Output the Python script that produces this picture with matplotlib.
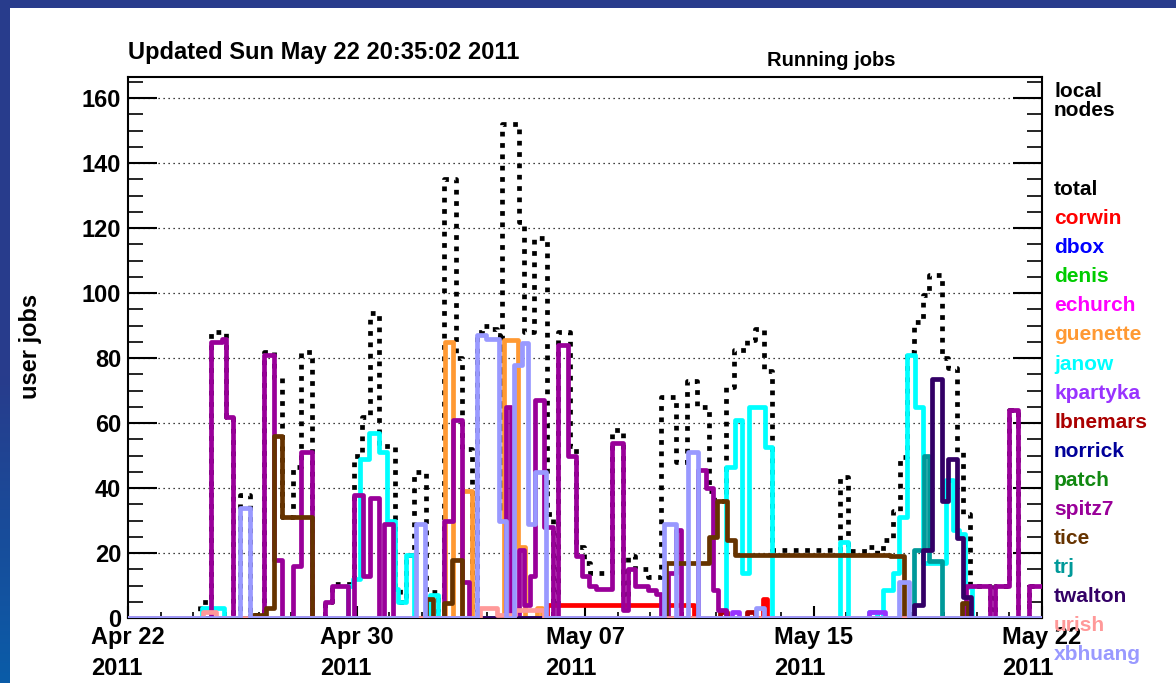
import datetime
import numpy as np
import matplotlib
matplotlib.use("Agg")
import matplotlib.pyplot as plt
import matplotlib.dates as mdates
from matplotlib.colors import to_rgb
from matplotlib.patches import Rectangle
from matplotlib.ticker import FixedLocator, MultipleLocator

plt.rcParams['font.family'] = ['Liberation Sans', 'DejaVu Sans']
plt.rcParams['font.weight'] = 'bold'

START = datetime.datetime(2011, 4, 22, 20, 35, 2)
SPAN_HOURS = 720

# hours since START where the running count changes, and the new count
total_h = [57, 65, 77, 83, 88, 96, 107, 115, 121, 130, 136, 145, 155, 161, 178, 184, 191, 198, 210, 214,
           219, 225, 235, 244, 249, 258, 263, 271, 275, 279, 287, 291, 293, 295, 308, 312, 320, 330, 335, 339,
           348, 353, 359, 364, 381, 390, 394, 399, 410, 420, 432, 440, 448, 458, 462, 471, 477, 488, 494, 501,
           507, 561, 567, 584, 590, 595, 603, 608, 614, 619, 626, 631, 641, 646, 653, 658, 663, 679, 683, 694,
           701, 710]
total_n = [5, 88, 62, 0, 38, 1, 82, 74, 31, 46.5, 82, 0, 5, 10.5, 50, 62, 94, 53, 9, 5,
           19.5, 45, 8, 2, 135, 80, 52, 2, 88, 90, 89, 87, 33, 152, 122, 88, 117, 32, 4, 88,
           53, 22, 17, 14, 58, 6.5, 19, 15, 12.5, 68, 48, 73, 65, 39, 36, 71, 82.5, 85.5, 89, 76,
           21, 43.5, 20.5, 22, 20, 24, 33, 49.5, 82, 91, 99.5, 105.5, 80, 77, 51, 32, 10, 0, 10, 64,
           0, 10]

corwin_h = [330, 446, 500, 503]
corwin_n = [4, 0, 6, 0]
guenette_h = [250, 256, 263, 271, 296, 307, 313, 322, 326]
guenette_n = [85, 0, 39, 0, 85.5, 22, 0, 3, 0]
janow_h = [58, 76, 173, 177, 183, 190, 198, 204, 210, 213, 219, 225, 238, 244, 471, 478, 484, 489, 502, 507,
           561, 567, 584, 590, 595, 603, 607, 614, 620, 626, 644, 650, 655, 659, 665]
janow_n = [3, 0, 10, 12, 49, 57, 51, 30, 9, 5, 19.5, 0, 7, 0, 46.5, 61, 14, 65, 52.5, 0,
           23.5, 0, 2, 0, 8.5, 14, 31, 81, 65, 17, 42.5, 27, 26, 9.5, 0]
kpartyka_h = [476, 481, 584, 596]
kpartyka_n = [2, 0, 2, 0]
lbnemars_h = [466, 472, 488, 494]
lbnemars_n = [2, 0, 2, 0]
spitz7_h = [65, 74, 77, 83, 107, 115, 121, 130, 136, 145, 155, 161, 173, 178, 185, 191, 198, 202, 209, 249,
            256, 263, 269, 298, 302, 308, 312, 317, 321, 328, 335, 339, 347, 353, 358, 363, 369, 381, 390, 394,
            399, 410, 416, 420, 425, 432, 436, 449, 455, 461, 465, 471, 660, 679, 683, 694, 701, 710]
spitz7_n = [85, 86, 62, 0, 81, 18, 0, 16, 51, 0, 5, 10, 0, 38, 13, 37, 0, 29, 0, 30,
            61, 11, 0, 65, 0, 21, 4, 13, 67, 28, 0, 84, 50, 19, 13, 10, 9, 54, 2.5, 15,
            10, 8.5, 7.5, 0, 14, 27, 0, 45.5, 40, 8.5, 2.5, 0, 10, 0, 10, 64, 0, 10]
tice_h = [96, 109, 115, 121, 145, 235, 240, 249, 255, 263, 424, 458, 464, 472, 478, 600, 611, 657, 662]
tice_n = [1, 3, 56, 31, 0, 6, 0, 4.5, 18, 0, 17, 25, 36, 24, 19.5, 19, 0, 4.5, 0]
trj_h = [619, 627, 631, 641]
trj_n = [21, 50, 17.5, 0]
twalton_h = [619, 626, 633, 641, 646, 653, 658, 664]
twalton_n = [4, 21, 73.5, 36, 49, 24.5, 6.5, 0]
urish_h = [59, 69, 277, 291, 305, 328]
urish_n = [2, 0, 3, 1, 2.5, 0]
xbhuang_h = [88, 96, 227, 234, 275, 282, 292, 298, 304, 310, 315, 321, 329, 422, 432, 441, 449, 495, 501, 607, 615]
xbhuang_n = [34, 0, 29, 0, 87, 86, 30, 0, 78, 84.5, 29, 45, 0, 29, 0, 51, 0, 3, 0, 11, 0]

users = ["corwin", "dbox", "denis", "echurch", "guenette", "janow", "kpartyka", "lbnemars",
         "norrick", "patch", "spitz7", "tice", "trj", "twalton", "urish", "xbhuang"]
user_colors = ["#ff0000", "#0000ff", "#00cc00", "#ff00ff", "#ff9933", "#00ffff", "#9933ff", "#aa0000",
               "#000099", "#118811", "#990099", "#663300", "#009999", "#330066", "#ff9999", "#9999ff"]
user_data = {
    "corwin": (corwin_h, corwin_n),
    "guenette": (guenette_h, guenette_n),
    "janow": (janow_h, janow_n),
    "kpartyka": (kpartyka_h, kpartyka_n),
    "lbnemars": (lbnemars_h, lbnemars_n),
    "spitz7": (spitz7_h, spitz7_n),
    "tice": (tice_h, tice_n),
    "trj": (trj_h, trj_n),
    "twalton": (twalton_h, twalton_n),
    "urish": (urish_h, urish_n),
    "xbhuang": (xbhuang_h, xbhuang_n),
}


# turn change points into a step curve over the whole window
def step_series(hours, counts):
    h = [0] + list(hours) + [SPAN_HOURS]
    n = [0] + list(counts) + [counts[-1] if counts else 0]
    t = [START + datetime.timedelta(hours=x) for x in h]
    return t, n


W, H = 1176, 683
fig = plt.figure(figsize=(W / 100, H / 100), dpi=100, facecolor="#283c8c")

# slide frame: blue strip on the left fading lighter towards the bottom
strip = fig.add_axes([0, 0, 10 / W, 1], zorder=-3)
top_c, bot_c = np.array(to_rgb("#283c8c")), np.array(to_rgb("#0a5ca8"))
f = np.clip((np.linspace(0, 1, H) - 0.55) / 0.45, 0, 1)[:, None]
strip.imshow((top_c * (1 - f) + bot_c * f)[:, None, :], aspect="auto")
strip.set_axis_off()
fig.patches.append(Rectangle((10 / W, 0), 1 - 10 / W, 1 - 8 / H, transform=fig.transFigure,
                             facecolor="white", edgecolor="none", zorder=-1))

ax = fig.add_axes([128 / W, 65 / H, (1042 - 128) / W, (618 - 77) / H])

t, n = step_series(total_h, total_n)
ax.step(t, n, where="post", color="black", lw=3.4, linestyle=(0, (1.0, 1.4)),
        dash_capstyle="butt", zorder=2)

for i, (name, col) in enumerate(zip(users, user_colors)):
    hrs, cnt = user_data.get(name, ([], []))
    t, n = step_series(hrs, cnt)
    ax.step(t, n, where="post", color=col, lw=3.4, zorder=3 + i * 0.01)

# axes
ax.set_xlim(START, START + datetime.timedelta(hours=SPAN_HOURS))
ax.set_ylim(0, 166.5)
major = [mdates.date2num(START + datetime.timedelta(days=7.5 * k)) for k in range(5)]
minor = [mdates.date2num(START + datetime.timedelta(days=7.5 / 7 * k)) for k in range(29)]
ax.xaxis.set_major_locator(FixedLocator(major))
ax.xaxis.set_minor_locator(FixedLocator(minor))
ax.xaxis.set_major_formatter(mdates.DateFormatter("%b %d\n%Y"))
ax.yaxis.set_major_locator(MultipleLocator(20))
ax.yaxis.set_minor_locator(MultipleLocator(5))

ax.tick_params(axis="y", which="major", direction="in", length=21, width=1.5, right=True,
               labelsize=17, pad=5)
ax.tick_params(axis="y", which="minor", direction="in", length=11, width=1.2, right=True)
ax.tick_params(axis="x", which="major", direction="in", length=9, width=1.5, labelsize=17, pad=6)
ax.tick_params(axis="x", which="minor", direction="in", length=4, width=1.2)
for s in ax.spines.values():
    s.set_linewidth(1.5)

ax.yaxis.grid(True, which="major", color="black", linestyle=(0, (1, 3)), lw=0.9)
ax.set_axisbelow(True)

fig.canvas.draw()
for lbl in ax.get_xticklabels():
    lbl.set_multialignment("left")
    lbl.set_linespacing(1.45)

# texts
fig.text(128 / W, 1 - 52 / H, "Updated Sun May 22 20:35:02 2011", fontsize=17, va="center", ha="left")
fig.text(831 / W, 1 - 60 / H, "Running jobs", fontsize=14.5, va="center", ha="center")
fig.text(30 / W, 1 - 346 / H, "user jobs", fontsize=17, rotation=90, va="center", ha="center")

fig.text(1054 / W, 1 - 101 / H, "local\nnodes", fontsize=15, va="center", ha="left",
         linespacing=1.05, color="black")
fig.text(1054 / W, 1 - 189.5 / H, "total", fontsize=15, va="center", ha="left", color="black")
for i, (name, col) in enumerate(zip(users, user_colors)):
    fig.text(1054 / W, 1 - (218.5 + 29.1 * i) / H, name, fontsize=15, va="center", ha="left", color=col)

fig.savefig("out.png", dpi=100, facecolor=fig.get_facecolor())
